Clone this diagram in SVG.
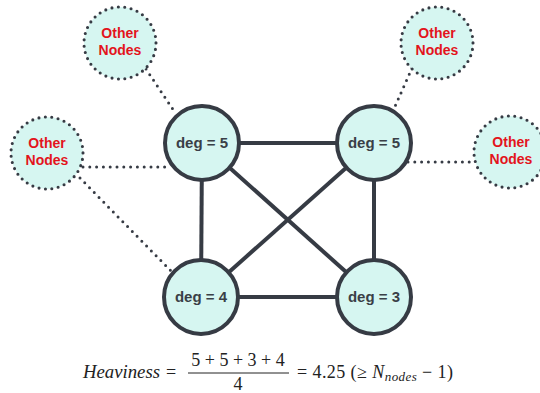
<svg xmlns="http://www.w3.org/2000/svg" width="540" height="393" viewBox="0 0 540 393">
<style>
.edge{stroke:#363b44;stroke-width:4;fill:none}
.dot{stroke:#363b44;stroke-width:3;stroke-linecap:round;stroke-dasharray:0 6.8;fill:none}
.main{fill:#d6f6f1;stroke:#363b44;stroke-width:4}
.other{fill:#d6f6f1;stroke:#363b44;stroke-width:3.1;stroke-linecap:round;stroke-dasharray:0 6.45}
.deg{font-family:"Liberation Sans",Arial,sans-serif;font-weight:bold;font-size:15px;fill:#3a3f47;text-anchor:middle}
.on{font-family:"Liberation Sans",Arial,sans-serif;font-weight:bold;font-size:14px;fill:#e3141c;text-anchor:middle}
.m{font-family:"Liberation Serif","Times New Roman",serif;font-size:18px;fill:#222}
.i{font-style:italic}
</style>
<rect width="540" height="393" fill="#ffffff"/>
<g id="connectors">
<line class="edge" x1="202" y1="143" x2="374" y2="143"/>
<line class="edge" x1="202" y1="143" x2="201" y2="297"/>
<line class="edge" x1="374" y1="143" x2="374" y2="297"/>
<line class="edge" x1="201" y1="297" x2="374" y2="297"/>
<line class="edge" x1="202" y1="143" x2="374" y2="297"/>
<line class="edge" x1="374" y1="143" x2="201" y2="297"/>
<line class="dot" x1="146" y1="69" x2="176" y2="114"/>
<line class="dot" x1="83" y1="167" x2="171" y2="167"/>
<line class="dot" x1="80" y1="178" x2="172" y2="272"/>
<line class="dot" x1="412" y1="68" x2="393" y2="111"/>
<line class="dot" x1="408" y1="162" x2="473" y2="162"/>
</g>
<g id="node-tl"><circle class="main" cx="202" cy="143" r="37"/><text class="deg" x="202" y="148">deg = 5</text></g>
<g id="node-tr"><circle class="main" cx="374" cy="143" r="37"/><text class="deg" x="374" y="148">deg = 5</text></g>
<g id="node-bl"><circle class="main" cx="201" cy="297" r="37"/><text class="deg" x="201" y="302">deg = 4</text></g>
<g id="node-br"><circle class="main" cx="374" cy="297" r="37"/><text class="deg" x="374" y="302">deg = 3</text></g>
<g id="other-tl"><circle class="other" cx="120" cy="43" r="36"/><text class="on" x="120" y="38">Other</text><text class="on" x="120" y="55">Nodes</text></g>
<g id="other-l"><circle class="other" cx="47" cy="153" r="36"/><text class="on" x="47" y="148">Other</text><text class="on" x="47" y="165">Nodes</text></g>
<g id="other-tr"><circle class="other" cx="437" cy="43" r="36"/><text class="on" x="437" y="38">Other</text><text class="on" x="437" y="55">Nodes</text></g>
<g id="other-r"><circle class="other" cx="510" cy="152" r="36"/><text class="on" x="511" y="147">Other</text><text class="on" x="511" y="164">Nodes</text></g>
<g id="formula">
<text class="m i" x="83" y="378" textLength="77" lengthAdjust="spacingAndGlyphs">Heaviness</text>
<text class="m" x="166" y="378">=</text>
<text class="m" x="238" y="366" text-anchor="middle">5 + 5 + 3 + 4</text>
<line x1="188" y1="373" x2="289" y2="373" stroke="#222" stroke-width="1"/>
<text class="m" x="238" y="390" text-anchor="middle">4</text>
<text class="m" x="297" y="378" textLength="156">= 4.25 (≥ <tspan class="i">N</tspan><tspan class="i" font-size="13" dy="3">nodes</tspan><tspan dy="-3"> − 1)</tspan></text>
</g>
</svg>
